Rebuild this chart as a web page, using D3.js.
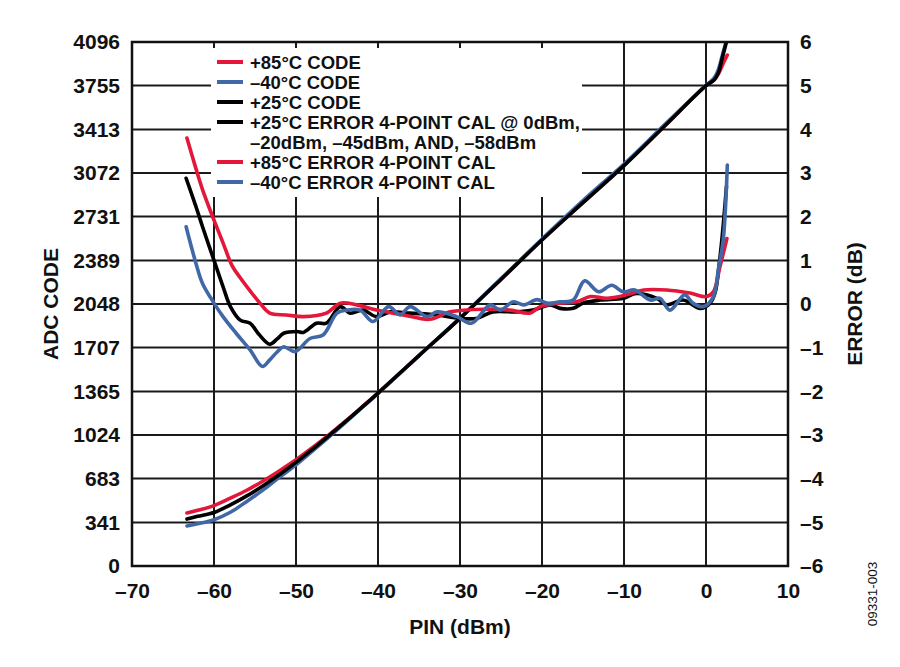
<!DOCTYPE html>
<html>
<head>
<meta charset="utf-8">
<script src="https://cdn.jsdelivr.net/npm/d3@7"></script>
<style>
  body { margin: 0; background: #fff; }
  text { font-family: "Liberation Sans", Arial, sans-serif; fill: #111; }
</style>
</head>
<body>
<div id="container"></div>
<script>
/* CONSTANTS AND GLOBALS */
const width = 900;
const height = 667;
const margin = { top: 42, right: 112, bottom: 101, left: 132 };

const RED = "#e3173a";
const BLUE = "#4168a6";
const BLACK = "#000";

/* DATA */
// PIN (dBm) ticks and labels
const pinTicks = [-70, -60, -50, -40, -30, -20, -10, 0, 10];
const codeTicks = [0, 341, 683, 1024, 1365, 1707, 2048, 2389, 2731, 3072, 3413, 3755, 4096];
const errTicks = [-6, -5, -4, -3, -2, -1, 0, 1, 2, 3, 4, 5, 6];

// ADC code curves (left axis)
const codePin = [-63.3, -62, -60, -58, -56, -54, -52, -50, -48, -46, -44, -42, -40, -35, -30, -25, -20, -15, -10, -5, 0, 1, 1.5, 2];
const code85 = [414, 435, 472, 530, 592, 665, 745, 830, 925, 1025, 1130, 1240, 1352, 1645, 1936, 2242, 2550, 2842, 3132, 3445, 3755, 3800, 3845, 3915];
const codeM40 = [313, 330, 362, 420, 505, 595, 695, 790, 898, 1008, 1120, 1235, 1350, 1645, 1938, 2246, 2556, 2856, 3142, 3452, 3757, 3815, 3880, 3995];
const code25 = [367, 388, 418, 478, 548, 628, 715, 810, 912, 1018, 1127, 1238, 1352, 1645, 1936, 2240, 2548, 2840, 3130, 3442, 3755, 3800, 3855, 3975];
// end points past +2 dBm
const code85End = [2.6, 3994];
const codeM40End = [2.45, 4096];
const code25End = [2.55, 4110];

// error curves (right axis, dB)
const err25Pin = [-63.4, -62.2, -61.4, -60, -58.9, -58, -56.8, -55.6, -54.5, -53.2, -52.3, -51.5, -49.9, -49.1, -47.5, -46.3, -44.6, -43.4, -41.8, -40.2, -38.5, -36.1, -32.8, -30.4, -28, -26, -23.2, -21.1, -19, -17.8, -16.2, -15, -12.9, -10.1, -8.5, -6, -4.8, -2.8, -0.7, 0.5, 1.1, 1.6, 2, 2.5];
const err25 = [2.88, 2.23, 1.77, 1.0, 0.4, -0.06, -0.37, -0.44, -0.7, -0.92, -0.8, -0.67, -0.63, -0.65, -0.44, -0.44, -0.06, -0.21, -0.14, -0.29, -0.18, -0.21, -0.25, -0.32, -0.33, -0.18, -0.18, -0.14, -0.02, -0.1, -0.1, 0.02, 0.09, 0.13, 0.24, 0.13, -0.02, 0.09, -0.1, 0.02, 0.25, 0.9, 1.6, 2.7];

const err85Pin = [-63.3, -62.2, -61.4, -60, -58.9, -57.8, -56.8, -55.6, -54.4, -53.2, -51.2, -49.1, -46.3, -44.6, -42.6, -40.2, -36.9, -33.7, -31.2, -27.2, -23.9, -21.5, -20.2, -17.8, -15.8, -14.1, -12.1, -9.7, -7.6, -4.8, -1.95, 0.08, 0.9, 1.7, 2.55];
const err85 = [3.8, 3.1, 2.62, 1.92, 1.4, 0.88, 0.6, 0.3, 0.02, -0.21, -0.25, -0.29, -0.21, 0.02, -0.02, -0.14, -0.25, -0.35, -0.18, -0.12, -0.14, -0.21, -0.06, 0.02, 0.05, 0.17, 0.13, 0.21, 0.32, 0.32, 0.25, 0.17, 0.28, 0.85, 1.5];

const errM40Pin = [-63.4, -62.2, -61.4, -60, -58.9, -57.3, -55.6, -54.1, -53.2, -52.3, -51.5, -50.1, -48.3, -46.7, -45, -43.8, -42.2, -40.6, -38.7, -37.3, -36.1, -34, -32.8, -30.4, -28.6, -26.3, -25.1, -23.5, -22.2, -20.6, -19.4, -17.8, -16.2, -14.8, -13.1, -11.5, -10.1, -8.7, -6.8, -5.6, -4.4, -2.6, -1.6, -0.3, 0.9, 1.5, 2.1, 2.6];
const errM40 = [1.77, 0.93, 0.47, 0.02, -0.29, -0.67, -1.05, -1.43, -1.28, -1.1, -0.98, -1.09, -0.79, -0.71, -0.21, -0.14, -0.14, -0.4, -0.06, -0.25, -0.06, -0.29, -0.18, -0.29, -0.44, -0.02, -0.14, 0.05, -0.02, 0.1, 0.02, 0.05, 0.09, 0.53, 0.28, 0.43, 0.28, 0.32, 0.09, 0.13, -0.14, 0.21, 0.02, -0.06, 0.17, 0.78, 1.47, 3.18];

const legendLabels = [
  ["+85°C CODE"],
  ["–40°C CODE"],
  ["+25°C CODE"],
  ["+25°C ERROR 4-POINT CAL @ 0dBm,", "–20dBm, –45dBm, AND, –58dBm"],
  ["+85°C ERROR 4-POINT CAL"],
  ["–40°C ERROR 4-POINT CAL"]
];
const legendColors = [RED, BLUE, BLACK, BLACK, RED, BLUE];

const fmtMinus = v => (v < 0 ? "–" + Math.abs(v) : String(v));

/* SCALES */
const x = d3.scaleLinear().domain([-70, 10]).range([margin.left, width - margin.right]);
const yCode = d3.scaleLinear().domain([0, 4096]).range([height - margin.bottom, margin.top]);
const yErr = d3.scaleLinear().domain([-6, 6]).range([height - margin.bottom, margin.top]);

/* HTML ELEMENTS */
const svg = d3.select("#container")
  .append("svg")
  .attr("width", width)
  .attr("height", height);

const x0 = margin.left, x1 = width - margin.right;
const y0 = margin.top, y1 = height - margin.bottom;

svg.append("clipPath").attr("id", "plot")
  .append("rect")
  .attr("x", x0).attr("y", y0)
  .attr("width", x1 - x0).attr("height", y1 - y0);

// grid
const grid = svg.append("g").attr("stroke", "#1a1a1a").attr("stroke-width", 2);
grid.selectAll(".vg")
  .data(pinTicks.slice(1, -1))
  .join("line")
  .attr("x1", d => x(d)).attr("x2", d => x(d))
  .attr("y1", y0).attr("y2", y1);
grid.selectAll(".hg")
  .data(codeTicks.slice(1, -1))
  .join("line")
  .attr("x1", x0).attr("x2", x1)
  .attr("y1", d => yCode(d)).attr("y2", d => yCode(d));

// curves
const line = d3.line()
  .x(d => x(d[0]))
  .y(d => d[1])
  .curve(d3.curveCatmullRom.alpha(0.5));

const codePts = (vals, end) => codePin.map((p, i) => [p, yCode(vals[i])]).concat([[end[0], yCode(end[1])]]);
const errPts = (pins, vals) => pins.map((p, i) => [p, yErr(vals[i])]);

const series = [
  { pts: codePts(code85, code85End), color: RED },
  { pts: codePts(codeM40, codeM40End), color: BLUE },
  { pts: codePts(code25, code25End), color: BLACK },
  { pts: errPts(err25Pin, err25), color: BLACK },
  { pts: errPts(err85Pin, err85), color: RED },
  { pts: errPts(errM40Pin, errM40), color: BLUE }
];

svg.append("g")
  .attr("clip-path", "url(#plot)")
  .selectAll("path")
  .data(series)
  .join("path")
  .attr("fill", "none")
  .attr("stroke", d => d.color)
  .attr("stroke-width", 3.6)
  .attr("stroke-linejoin", "round")
  .attr("stroke-linecap", "round")
  .attr("d", d => line(d.pts));

// legend (white box covers the grid)
const legend = svg.append("g");
legend.append("rect")
  .attr("x", 211).attr("y", y0 + 1)
  .attr("width", 371).attr("height", 154)
  .attr("fill", "#fff");

let row = 0;
legendLabels.forEach((lines, i) => {
  const cy = 62 + row * 20;
  legend.append("line")
    .attr("x1", 217).attr("x2", 243)
    .attr("y1", cy).attr("y2", cy)
    .attr("stroke", legendColors[i])
    .attr("stroke-width", 4);
  lines.forEach((t, j) => {
    legend.append("text")
      .attr("x", 250)
      .attr("y", cy + j * 20)
      .attr("dy", "0.36em")
      .attr("font-size", 18.5)
      .attr("font-weight", "bold")
      .text(t);
  });
  row += lines.length;
});

// inward ticks on the frame
const ticks = svg.append("g").attr("stroke", "#1a1a1a").attr("stroke-width", 2);
ticks.selectAll(".tt")
  .data(pinTicks)
  .join("line")
  .attr("x1", d => x(d)).attr("x2", d => x(d))
  .attr("y1", y0).attr("y2", y0 + 6);

// frame
svg.append("rect")
  .attr("x", x0).attr("y", y0)
  .attr("width", x1 - x0).attr("height", y1 - y0)
  .attr("fill", "none")
  .attr("stroke", "#111")
  .attr("stroke-width", 2.5);

/* AXES */
const xAxis = d3.axisBottom(x).tickValues(pinTicks).tickSize(0).tickPadding(0).tickFormat(fmtMinus);
const yAxisL = d3.axisLeft(yCode).tickValues(codeTicks).tickSize(0).tickPadding(0).tickFormat(d3.format("d"));
const yAxisR = d3.axisRight(yErr).tickValues(errTicks).tickSize(0).tickPadding(0).tickFormat(fmtMinus);

const gx = svg.append("g").attr("transform", `translate(0,${y1 + 17})`).call(xAxis);
const gl = svg.append("g").attr("transform", `translate(${x0 - 12},0)`).call(yAxisL);
const gr = svg.append("g").attr("transform", `translate(${x1 + 12},0)`).call(yAxisR);

[gx, gl, gr].forEach(g => {
  g.select(".domain").remove();
  g.selectAll("text")
    .attr("font-family", "Liberation Sans, Arial, sans-serif")
    .attr("font-weight", "bold")
    .attr("font-size", 21)
    .attr("fill", "#111");
});

// axis titles
svg.append("text")
  .attr("x", x(-30)).attr("y", 634)
  .attr("text-anchor", "middle")
  .attr("font-size", 21)
  .attr("font-weight", "bold")
  .text("PIN (dBm)");

svg.append("text")
  .attr("transform", `translate(50,${(y0 + y1) / 2}) rotate(-90)`)
  .attr("text-anchor", "middle")
  .attr("dy", "0.36em")
  .attr("font-size", 21)
  .attr("font-weight", "bold")
  .text("ADC CODE");

svg.append("text")
  .attr("transform", `translate(854,${(y0 + y1) / 2}) rotate(-90)`)
  .attr("text-anchor", "middle")
  .attr("dy", "0.36em")
  .attr("font-size", 21)
  .attr("font-weight", "bold")
  .text("ERROR (dB)");

svg.append("text")
  .attr("transform", "translate(872,594) rotate(-90)")
  .attr("text-anchor", "middle")
  .attr("dy", "0.36em")
  .attr("font-size", 13.5)
  .attr("fill", "#222")
  .text("09331-003");
</script>
</body>
</html>
